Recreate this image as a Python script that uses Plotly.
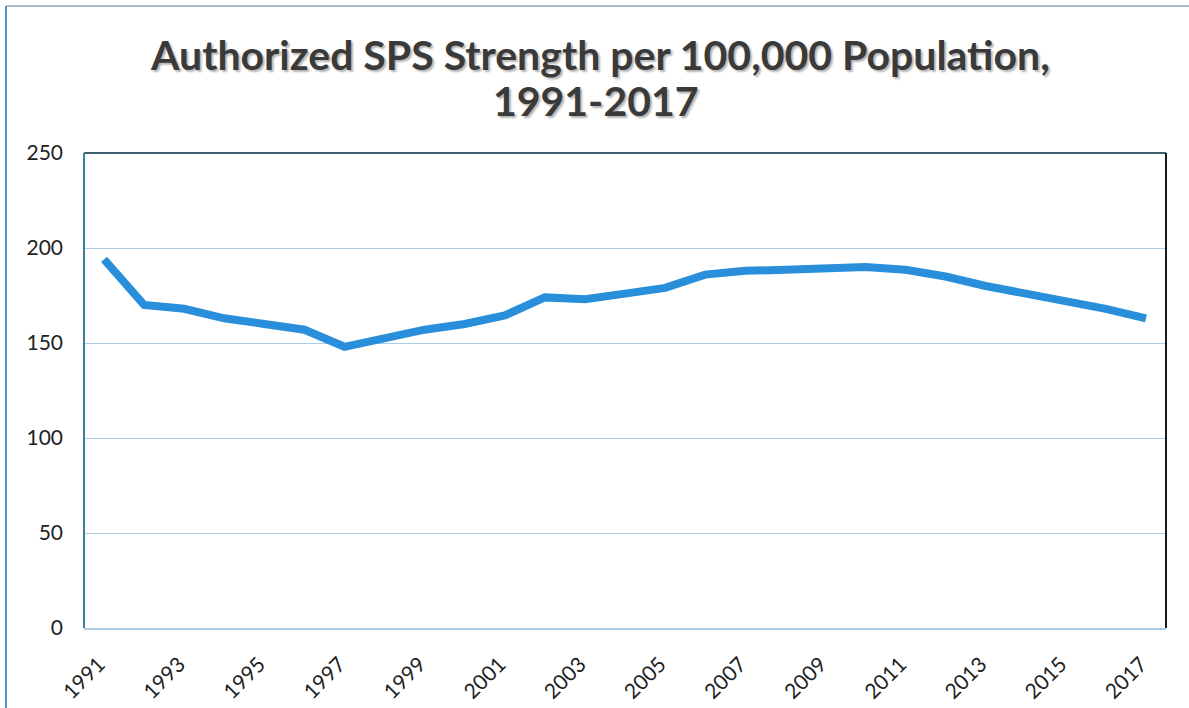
import plotly.graph_objects as go

# Authorized SPS strength per 100,000 population, by year
years = [str(y) for y in range(1991, 2018)]
strength = [194, 170, 168, 163, 160, 157, 148, 153, 157, 160, 164.5, 174, 173,
            176, 179, 186, 188, 188.5, 189, 190, 188.5, 185, 180, 176, 173, 168, 163]
y_ticks = [0, 50, 100, 150, 200, 250]
x_tick_labels = years[::2]
title_lines = ["Authorized SPS Strength per 100,000 Population,", "1991-2017"]

W, H = 1189, 708
L, R, T, B = 84, 23, 153, 80
plot_h = H - T - B
plot_w = W - L - R


def paper_y(px):
    return (H - B - px) / plot_h


def paper_x(px):
    return (px - L) / plot_w


title_font = dict(size=41, color="#3a3a3a", family="Lato, sans-serif", weight="bold",
                  shadow="2px 2px 2px #b5b5b5")

fig = go.Figure()
fig.add_trace(go.Scatter(
    x=years, y=strength, mode="lines",
    line=dict(color="#2a8fdb", width=8),
    hoverinfo="x+y",
))

fig.update_layout(
    width=W, height=H,
    margin=dict(l=L, r=R, t=T, b=B, autoexpand=False),
    paper_bgcolor="white", plot_bgcolor="white",
    showlegend=False,
    font=dict(family="Lato, sans-serif", color="#222222"),
    annotations=[
        dict(text=title_lines[0], x=paper_x(600), y=paper_y(55), xref="paper", yref="paper",
             xanchor="center", yanchor="middle", showarrow=False, font=title_font),
        dict(text=title_lines[1], x=paper_x(596), y=paper_y(100), xref="paper", yref="paper",
             xanchor="center", yanchor="middle", showarrow=False, font=title_font),
    ],
    shapes=[
        # plot-area frame: dark top, black right, blue left
        dict(type="line", xref="paper", yref="paper", x0=0, x1=1, y0=1, y1=1,
             line=dict(color="#3d5f6e", width=2)),
        dict(type="line", xref="paper", yref="paper", x0=1, x1=1, y0=0, y1=1,
             line=dict(color="#1a1a1a", width=2)),
        dict(type="line", xref="paper", yref="paper", x0=0, x1=0, y0=0, y1=1,
             line=dict(color="#3d7ea6", width=2)),
        # outer chart border
        dict(type="line", xref="paper", yref="paper", x0=paper_x(6), x1=paper_x(6),
             y0=paper_y(6), y1=paper_y(708), line=dict(color="#5b8fc0", width=2)),
        dict(type="line", xref="paper", yref="paper", x0=paper_x(6), x1=paper_x(1189),
             y0=paper_y(6), y1=paper_y(6), line=dict(color="#8aa6bf", width=1.5)),
    ],
)

fig.update_xaxes(
    type="category", range=[-0.5, len(years) - 0.5], automargin=False,
    tickvals=x_tick_labels, ticktext=x_tick_labels,
    tickangle=-45, tickfont=dict(size=21, color="#222222"),
    showgrid=False, showline=True, linecolor="#a9cde6", linewidth=1.5,
    ticks="", ticklabelstandoff=14, ticklabelshift=-5,
)
fig.update_yaxes(
    range=[0, 250], tickvals=y_ticks, automargin=False,
    tickfont=dict(size=21, color="#222222"),
    showgrid=True, gridcolor="#a9cde6", gridwidth=1,
    showline=False, zeroline=False, ticks="", ticklabelstandoff=20,
)

fig.write_html("out.html")
